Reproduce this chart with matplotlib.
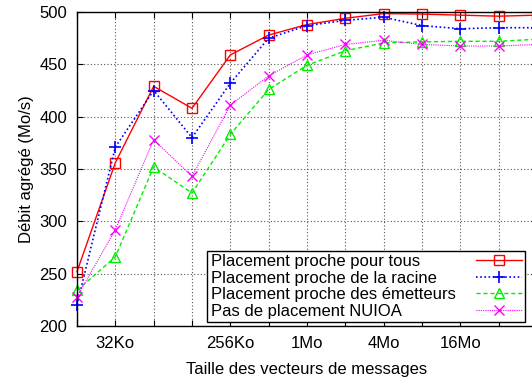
import matplotlib
matplotlib.use("Agg")
import matplotlib.pyplot as plt
from matplotlib.ticker import FixedLocator, FixedFormatter, NullLocator

plt.rcParams['font.family'] = ['Liberation Sans', 'DejaVu Sans']

# message sizes in Ko
sizes = [16, 32, 64, 128, 256, 512, 1024, 2048, 4096, 8192, 16384, 32768, 65536]
tick_pos = [32, 256, 1024, 4096, 16384]
tick_labels = ["32Ko", "256Ko", "1Mo", "4Mo", "16Mo"]

proche_tous = [252, 356, 429, 408, 459, 478, 488, 494, 498.5, 498, 497, 496, 497]
proche_racine = [220, 371, 425, 380, 432, 475, 487, 492, 495, 487, 484, 485, 485]
proche_emetteurs = [234, 266, 352, 327, 383, 426, 449, 463, 470.5, 471.5, 472, 472, 474]
pas_placement = [228, 292, 378, 343, 411, 439, 459, 469, 473, 469, 467.5, 467.5, 469]

names = ["Placement proche pour tous", "Placement proche de la racine",
         "Placement proche des émetteurs", "Pas de placement NUIOA"]

fig = plt.figure(figsize=(5.32, 3.80), dpi=100)
ax = fig.add_axes([77/532, 54/380, 460/532, 314/380])

ax.plot(sizes, proche_tous, color='#ff0000', linestyle='-', linewidth=1.0,
        marker='s', markersize=7, markerfacecolor='none', markeredgecolor='#ff0000',
        markeredgewidth=1.0, label=names[0], clip_on=False)
ax.plot(sizes, proche_racine, color='#0000ff', linestyle=(0, (1, 1.5)), linewidth=1.2,
        marker='+', markersize=8, markeredgewidth=1.2, label=names[1], clip_on=False)
ax.plot(sizes, proche_emetteurs, color='#00ee00', linestyle=(0, (3, 2)), linewidth=1.0,
        marker='^', markersize=7, markerfacecolor='none', markeredgecolor='#00ee00',
        markeredgewidth=1.0, label=names[2], clip_on=False)
ax.plot(sizes, pas_placement, color='#ff00ff', linestyle=(0, (1, 1)), linewidth=0.8,
        marker='x', markersize=7, markeredgewidth=1.0, label=names[3], clip_on=False)

ax.set_xscale('log', base=2)
ax.set_xlim(16, 65536)
ax.set_ylim(200, 500)
ax.xaxis.set_major_locator(FixedLocator(sizes))
ax.xaxis.set_major_formatter(FixedFormatter(
    [tick_labels[tick_pos.index(s)] if s in tick_pos else "" for s in sizes]))
ax.xaxis.set_minor_locator(NullLocator())
ax.set_yticks([200, 250, 300, 350, 400, 450, 500])

ax.tick_params(direction='in', top=True, right=True, labelsize=12, length=4, width=0.8, pad=7)
ax.grid(True, color='#555555', linestyle=(0, (1, 2)), linewidth=0.8)
ax.set_axisbelow(True)
for sp in ax.spines.values():
    sp.set_linewidth(1.0)

ax.set_xlabel("Taille des vecteurs de messages", fontsize=12, labelpad=8)
ax.set_ylabel("Débit agrégé (Mo/s)", fontsize=12, labelpad=4)

leg = ax.legend(loc='lower right', bbox_to_anchor=(525/532, 58/380),
                bbox_transform=fig.transFigure, borderaxespad=0, markerfirst=False,
                fancybox=False, framealpha=1, edgecolor='black', fontsize=12,
                handlelength=2.75, labelspacing=0.09, borderpad=0.2, handletextpad=0.7)
leg.get_frame().set_linewidth(1.0)

# left-align legend texts (gnuplot style): stretch each row to a common width
fig.canvas.draw()
rows = leg._legend_handle_box.get_children()[0].get_children()
target = 311
for r in rows:
    r.width = target
    r.mode = "expand"

fig.savefig("out.png", dpi=100)
